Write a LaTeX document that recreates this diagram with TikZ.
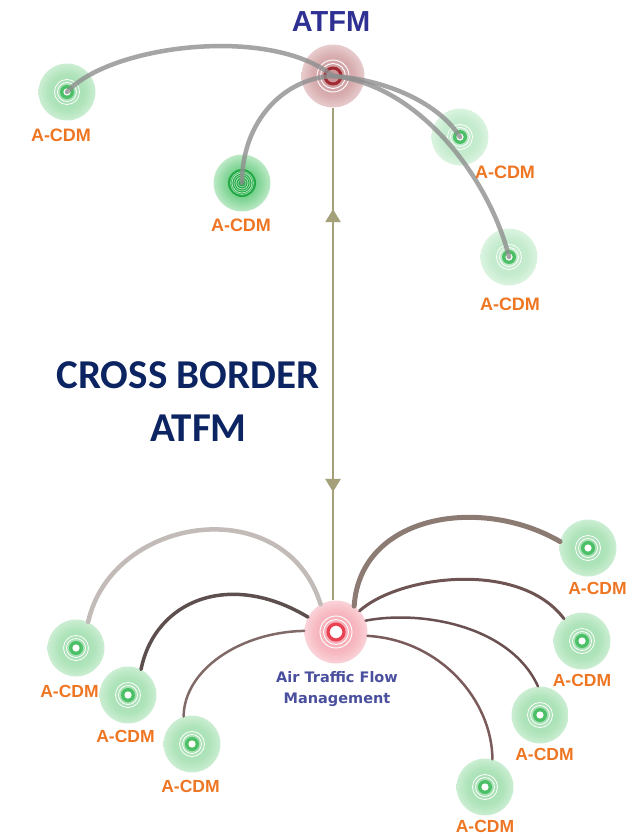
\documentclass[tikz,border=0pt]{standalone}
\usepackage{fontspec}
\setmainfont{Liberation Sans}
\newfontfamily\carlito{Carlito}
\newfontfamily\dejavu{DejaVu Sans}
\usetikzlibrary{arrows.meta,decorations.markings}

\definecolor{titleblue}{HTML}{2E3192}
\definecolor{navy}{HTML}{0C2461}
\definecolor{acdmorange}{HTML}{EE7623}
\definecolor{atfmblue}{HTML}{4A4F9E}
\definecolor{olive}{HTML}{A3A07A}
\definecolor{arcgray}{HTML}{8E8E8E}
\definecolor{ringgreen}{HTML}{4CC066}
\definecolor{darkgreen}{HTML}{22A845}
\definecolor{ringred}{HTML}{A22A33}
\definecolor{hubred}{HTML}{E8404F}
\definecolor{arcA}{HTML}{C2BBB8}
\definecolor{arcB}{HTML}{5C4F4D}
\definecolor{arcC}{HTML}{806A68}
\definecolor{arcD}{HTML}{8C7B73}
\definecolor{arcE}{HTML}{6E5452}
\definecolor{arcF}{HTML}{6A5050}
\definecolor{arcG}{HTML}{7A5A5A}
% glow colours
\definecolor{gA}{HTML}{9EDCAC}
\definecolor{gB}{HTML}{B0E4BB}
\definecolor{gC}{HTML}{D4F1DA}
\definecolor{pA}{HTML}{B8E7C3}
\definecolor{pB}{HTML}{C6ECCF}
\definecolor{pC}{HTML}{E2F6E6}
\definecolor{sA}{HTML}{3EBE5E}
\definecolor{sB}{HTML}{8AD89D}
\definecolor{sC}{HTML}{CDEFD4}
\definecolor{rA}{HTML}{C88E92}
\definecolor{rB}{HTML}{D9B0B2}
\definecolor{rC}{HTML}{EFDADB}
\definecolor{hA}{HTML}{F49FAA}
\definecolor{hB}{HTML}{F7BAC2}
\definecolor{hC}{HTML}{FBE0E4}

\pgfdeclareradialshading{greenglow}{\pgfpoint{0bp}{0bp}}{color(0bp)=(gA); color(16bp)=(gB); color(28bp)=(gC); color(35.5bp)=(white); color(50bp)=(white)}
\pgfdeclareradialshading{paleglow}{\pgfpoint{0bp}{0bp}}{color(0bp)=(pA); color(16bp)=(pB); color(28bp)=(pC); color(35.5bp)=(white); color(50bp)=(white)}
\pgfdeclareradialshading{strongglow}{\pgfpoint{0bp}{0bp}}{color(0bp)=(sA); color(16bp)=(sB); color(28bp)=(sC); color(35.5bp)=(white); color(50bp)=(white)}
\pgfdeclareradialshading{redglow}{\pgfpoint{0bp}{0bp}}{color(0bp)=(rA); color(17bp)=(rB); color(29bp)=(rC); color(35.5bp)=(white); color(50bp)=(white)}
\pgfdeclareradialshading{hubglow}{\pgfpoint{0bp}{0bp}}{color(0bp)=(hA); color(17bp)=(hB); color(29bp)=(hC); color(35.5bp)=(white); color(50bp)=(white)}

\newcommand\grnrings[1]{%
  \fill[ringgreen] (#1) circle[radius=7pt];
  \fill[white] (#1) circle[radius=3.6pt];
  \draw[white, line width=0.8pt] (#1) circle[radius=9.5pt] (#1) circle[radius=12.5pt];}

\begin{document}
\begin{tikzpicture}[x=1pt,y=-1pt,
  glowbox/.style={circle, minimum size=57pt, inner sep=0pt, draw=none},
  bigglow/.style={circle, minimum size=63pt, inner sep=0pt, draw=none},
  acdm/.style={font=\fontsize{17.5}{20}\selectfont\bfseries, text=acdmorange, inner sep=0pt},
  toparc/.style={draw=arcgray, line width=4.5pt, line cap=round, opacity=0.8},
  botarc/.style={line cap=round},
  connector/.style={draw=olive, line width=2.5pt}
]
\useasboundingbox (0,0) rectangle (626,835);

% ---------- top nodes ----------
\node[bigglow, shading=redglow] (atfm) at (333,76) {};
\node[glowbox, shading=greenglow] (t1) at (67,92) {};
\node[glowbox, shading=strongglow] (t2) at (242,183) {};
\node[glowbox, shading=paleglow] (t3) at (460,137) {};
\node[glowbox, shading=paleglow] (t4) at (509,257) {};

% rings top
\draw[ringred, line width=3pt] (atfm.center) circle[radius=8pt];
\draw[white, line width=0.9pt] (atfm.center) circle[radius=12.5pt] (atfm.center) circle[radius=16pt];
\grnrings{t1.center}
\fill[darkgreen] (t2.center) circle[radius=14pt];
\draw[sB, line width=0.8pt] (t2.center) circle[radius=4pt] (t2.center) circle[radius=8pt] (t2.center) circle[radius=11.5pt];
\draw[white!60!sA, line width=0.8pt] (t2.center) circle[radius=6pt] (t2.center) circle[radius=10pt];
\grnrings{t3.center}
\grnrings{t4.center}

% top arcs
\draw[toparc] (t1.center) .. controls (110,45) and (270,25) .. (atfm.center);
\draw[toparc] (t2.center) .. controls (242,120) and (285,78) .. (atfm.center);
\draw[toparc] (atfm.center) .. controls (390,80) and (440,105) .. (t3.center);
\draw[toparc] (atfm.center) .. controls (420,85) and (490,180) .. (t4.center);

\node[font=\fontsize{29}{32}\selectfont\bfseries, text=titleblue, inner sep=0pt] (title) at (331,22) {ATFM};
\node[acdm, font=\fontsize{18}{20}\selectfont\bfseries] (lt1) at (61,135) {A-CDM};
\node[acdm, font=\fontsize{18}{20}\selectfont\bfseries] (lt2) at (241,225) {A-CDM};
\node[acdm, font=\fontsize{18}{20}\selectfont\bfseries] (lt3) at (505,172.5) {A-CDM};
\node[acdm, font=\fontsize{18}{20}\selectfont\bfseries] (lt4) at (510,304) {A-CDM};

% ---------- cross border text ----------
\node[font=\carlito\fontsize{41}{44}\selectfont\bfseries, text=navy, inner sep=0pt] (cb1) at (188,375) {CROSS BORDER};
\node[font=\carlito\fontsize{41}{44}\selectfont\bfseries, text=navy, inner sep=0pt] (cb2) at (198.5,428.5) {ATFM};

% ---------- bottom nodes ----------
\node[bigglow, shading=hubglow] (hub) at (336,632) {};
\node[glowbox, shading=greenglow] (l1) at (76,648) {};
\node[glowbox, shading=greenglow] (l2) at (128,695) {};
\node[glowbox, shading=greenglow] (l3) at (192,744) {};
\node[glowbox, shading=greenglow] (r1) at (588,548) {};
\node[glowbox, shading=greenglow] (r2) at (582,641) {};
\node[glowbox, shading=greenglow] (r3) at (540,715) {};
\node[glowbox, shading=greenglow] (r4) at (485,787) {};

\fill[white] (hub.center) circle[radius=6pt];
\draw[hubred, line width=3pt] (hub.center) circle[radius=8pt];
\draw[white, line width=0.9pt] (hub.center) circle[radius=12.5pt] (hub.center) circle[radius=16pt];
\foreach \n in {l1,l2,l3,r1,r2,r3,r4} {\grnrings{\n.center}}

% vertical connector
\draw[connector, postaction={decorate},
  decoration={markings,
    mark=at position 0.206 with {\arrowreversed{Triangle[length=13pt,width=15pt]}},
    mark=at position 0.78 with {\arrow{Triangle[length=13pt,width=15pt]}}}]
  (atfm.south) -- (atfm.south |- hub.north);

% bottom arcs
\draw[botarc, draw=arcA, line width=4.5pt] (l1.65) .. controls (112,515) and (285,490) .. (hub.119);
\draw[botarc, draw=arcB, line width=3.5pt] (l2.63) .. controls (155,600) and (230,570) .. (hub.152);
\draw[botarc, draw=arcC, line width=2.5pt] (l3.107) .. controls (184,670) and (240,632) .. (hub.178);
\draw[botarc, draw=arcD, line width=5pt] (hub.55) .. controls (360,515) and (480,495) .. (r1.167);
\draw[botarc, draw=arcE, line width=3pt] (hub.42) .. controls (400,575) and (520,560) .. (r2.129);
\draw[botarc, draw=arcF, line width=2.5pt] (hub.21) .. controls (420,610) and (510,625) .. (r3.94);
\draw[botarc, draw=arcG, line width=2.5pt] (hub.-7) .. controls (440,640) and (492,700) .. (r4.75);

% bottom labels
\node[font=\dejavu\fontsize{14.5}{21.5}\selectfont\bfseries, text=atfmblue, align=center, inner sep=0pt] (hublabel) at (337,689) {Air Traffic Flow\\Management};
\node[acdm] (ll1) at (69.5,691) {A-CDM};
\node[acdm] (ll2) at (125.5,736.5) {A-CDM};
\node[acdm] (ll3) at (190.5,786.5) {A-CDM};
\node[acdm] (lr1) at (597.5,588) {A-CDM};
\node[acdm] (lr2) at (582,680) {A-CDM};
\node[acdm] (lr3) at (544.5,754) {A-CDM};
\node[acdm] (lr4) at (485,826) {A-CDM};
\end{tikzpicture}
\end{document}
